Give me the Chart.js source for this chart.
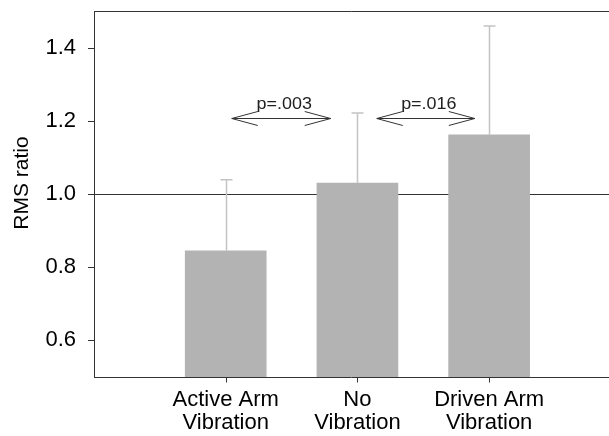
<!DOCTYPE html>
<html><head><meta charset="utf-8">
<script src="https://cdn.jsdelivr.net/npm/chart.js@4/dist/chart.umd.min.js"></script>
<style>html,body{margin:0;padding:0;background:#fff}</style>
</head><body>
<canvas id="c" width="609" height="436"></canvas>
<script>
// ---- data ----
const categories = [['Active Arm', 'Vibration'], ['No', 'Vibration'], ['Driven Arm', 'Vibration']];
const positions = [1, 2, 3];
const meanValues = [0.845, 1.03, 1.162];
const errorValues = [0.194, 0.191, 0.297];
const yTicks = [0.6, 0.8, 1.0, 1.2, 1.4];
const referenceValue = 1.0;
const comparisonFrom = [1.046, 2.147];
const comparisonTo = [1.797, 2.891];
const comparisonLevel = [1.208, 1.208];
const comparisonLabels = ['p=.003', 'p=.016'];
const yTitle = 'RMS ratio';

const FONT = "'Liberation Sans', Arial, sans-serif";
const AXIS = '#333';

const overlay = {
  id: 'overlay',
  beforeDatasetsDraw(chart) {
    const {ctx, chartArea: a, scales: {y}} = chart;
    ctx.save();
    ctx.strokeStyle = AXIS;
    ctx.lineWidth = 1;
    const yr = Math.round(y.getPixelForValue(referenceValue)) + 0.5;
    ctx.beginPath(); ctx.moveTo(a.left, yr); ctx.lineTo(a.right, yr); ctx.stroke();
    ctx.restore();
  },
  afterDatasetsDraw(chart) {
    const {ctx, chartArea: a, scales: {x, y}} = chart;
    ctx.save();
    // frame: top line, axis lines, tick marks
    ctx.strokeStyle = AXIS;
    ctx.lineWidth = 1;
    ctx.beginPath();
    ctx.moveTo(a.left + 0.5, a.top + 0.5); ctx.lineTo(a.right, a.top + 0.5);
    ctx.moveTo(a.left + 0.5, a.top); ctx.lineTo(a.left + 0.5, a.bottom + 0.5);
    ctx.moveTo(a.left, a.bottom + 0.5); ctx.lineTo(a.right, a.bottom + 0.5);
    positions.forEach(p => {
      const px = Math.round(x.getPixelForValue(p)) + 0.5;
      ctx.moveTo(px, a.bottom); ctx.lineTo(px, a.bottom + 5.5);
    });
    yTicks.forEach(v => {
      const py = Math.round(y.getPixelForValue(v)) + 0.5;
      ctx.moveTo(a.left - 6, py); ctx.lineTo(a.left + 0.5, py);
    });
    ctx.stroke();
    // error bars (upper)
    ctx.strokeStyle = '#c4c4c4';
    ctx.lineWidth = 1.5;
    positions.forEach((p, i) => {
      const px = Math.round(x.getPixelForValue(p)) + 0.5;
      const y0 = y.getPixelForValue(meanValues[i]);
      const y1 = y.getPixelForValue(meanValues[i] + errorValues[i]);
      ctx.beginPath();
      ctx.moveTo(px, y0); ctx.lineTo(px, y1);
      ctx.moveTo(px - 6, y1); ctx.lineTo(px + 6, y1);
      ctx.stroke();
    });
    // comparison arrows
    ctx.strokeStyle = AXIS;
    ctx.lineWidth = 1;
    ctx.fillStyle = '#222';
    comparisonLabels.forEach((lab, i) => {
      const x1 = x.getPixelForValue(comparisonFrom[i]);
      const x2 = x.getPixelForValue(comparisonTo[i]);
      const yy = Math.round(y.getPixelForValue(comparisonLevel[i])) + 0.5;
      ctx.beginPath();
      ctx.moveTo(x1, yy); ctx.lineTo(x2, yy);
      ctx.moveTo(x1 + 26, yy - 7); ctx.lineTo(x1, yy); ctx.lineTo(x1 + 26, yy + 7);
      ctx.moveTo(x2 - 26, yy - 7); ctx.lineTo(x2, yy); ctx.lineTo(x2 - 26, yy + 7);
      ctx.stroke();
      ctx.save();
      ctx.translate((x1 + x2) / 2 + 3, yy - 10);
      ctx.scale(1.12, 1);
      ctx.font = "16px " + FONT;
      ctx.textAlign = 'center';
      ctx.textBaseline = 'alphabetic';
      ctx.fillText(lab, 0, 0);
      ctx.restore();
    });
    // y axis title
    ctx.fillStyle = '#000';
    ctx.font = "21px " + FONT;
    ctx.translate(22, (a.top + a.bottom) / 2 - 11);
    ctx.rotate(-Math.PI / 2);
    ctx.textAlign = 'center';
    ctx.textBaseline = 'middle';
    ctx.fillText(yTitle, 0, 0);
    ctx.restore();
  }
};

new Chart(document.getElementById('c'), {
  type: 'bar',
  data: {
    datasets: [{
      data: positions.map((p, i) => ({x: p, y: meanValues[i]})),
      backgroundColor: '#b3b3b3',
      borderWidth: 0,
      barThickness: 81
    }]
  },
  options: {
    responsive: false,
    animation: false,
    devicePixelRatio: 1,
    layout: {padding: {top: 11, left: 0, right: 0, bottom: 0}},
    plugins: {legend: {display: false}, tooltip: {enabled: false}},
    scales: {
      x: {
        type: 'linear', min: 0, max: 3.91, offset: false,
        afterBuildTicks: s => { s.ticks = positions.map(v => ({value: v})); },
        afterFit: s => { s.height = 59; s.paddingLeft = 0; s.paddingRight = 0; },
        ticks: {
          callback: v => categories[positions.indexOf(v)],
          font: {family: FONT, size: 22, lineHeight: 1.05},
          color: '#000', padding: 11, maxRotation: 0, autoSkip: false
        },
        grid: {display: false, drawTicks: false},
        border: {display: false}
      },
      y: {
        min: 0.5, max: 1.5,
        afterBuildTicks: s => { s.ticks = yTicks.map(v => ({value: v})); },
        afterFit: s => { s.width = 94; s.paddingTop = 0; s.paddingBottom = 0; },
        ticks: {
          callback: v => Number(v).toFixed(1),
          font: {family: FONT, size: 22},
          color: '#000', padding: 18
        },
        grid: {display: false, drawTicks: false},
        border: {display: false}
      }
    }
  },
  plugins: [overlay]
});
</script>
</body></html>
